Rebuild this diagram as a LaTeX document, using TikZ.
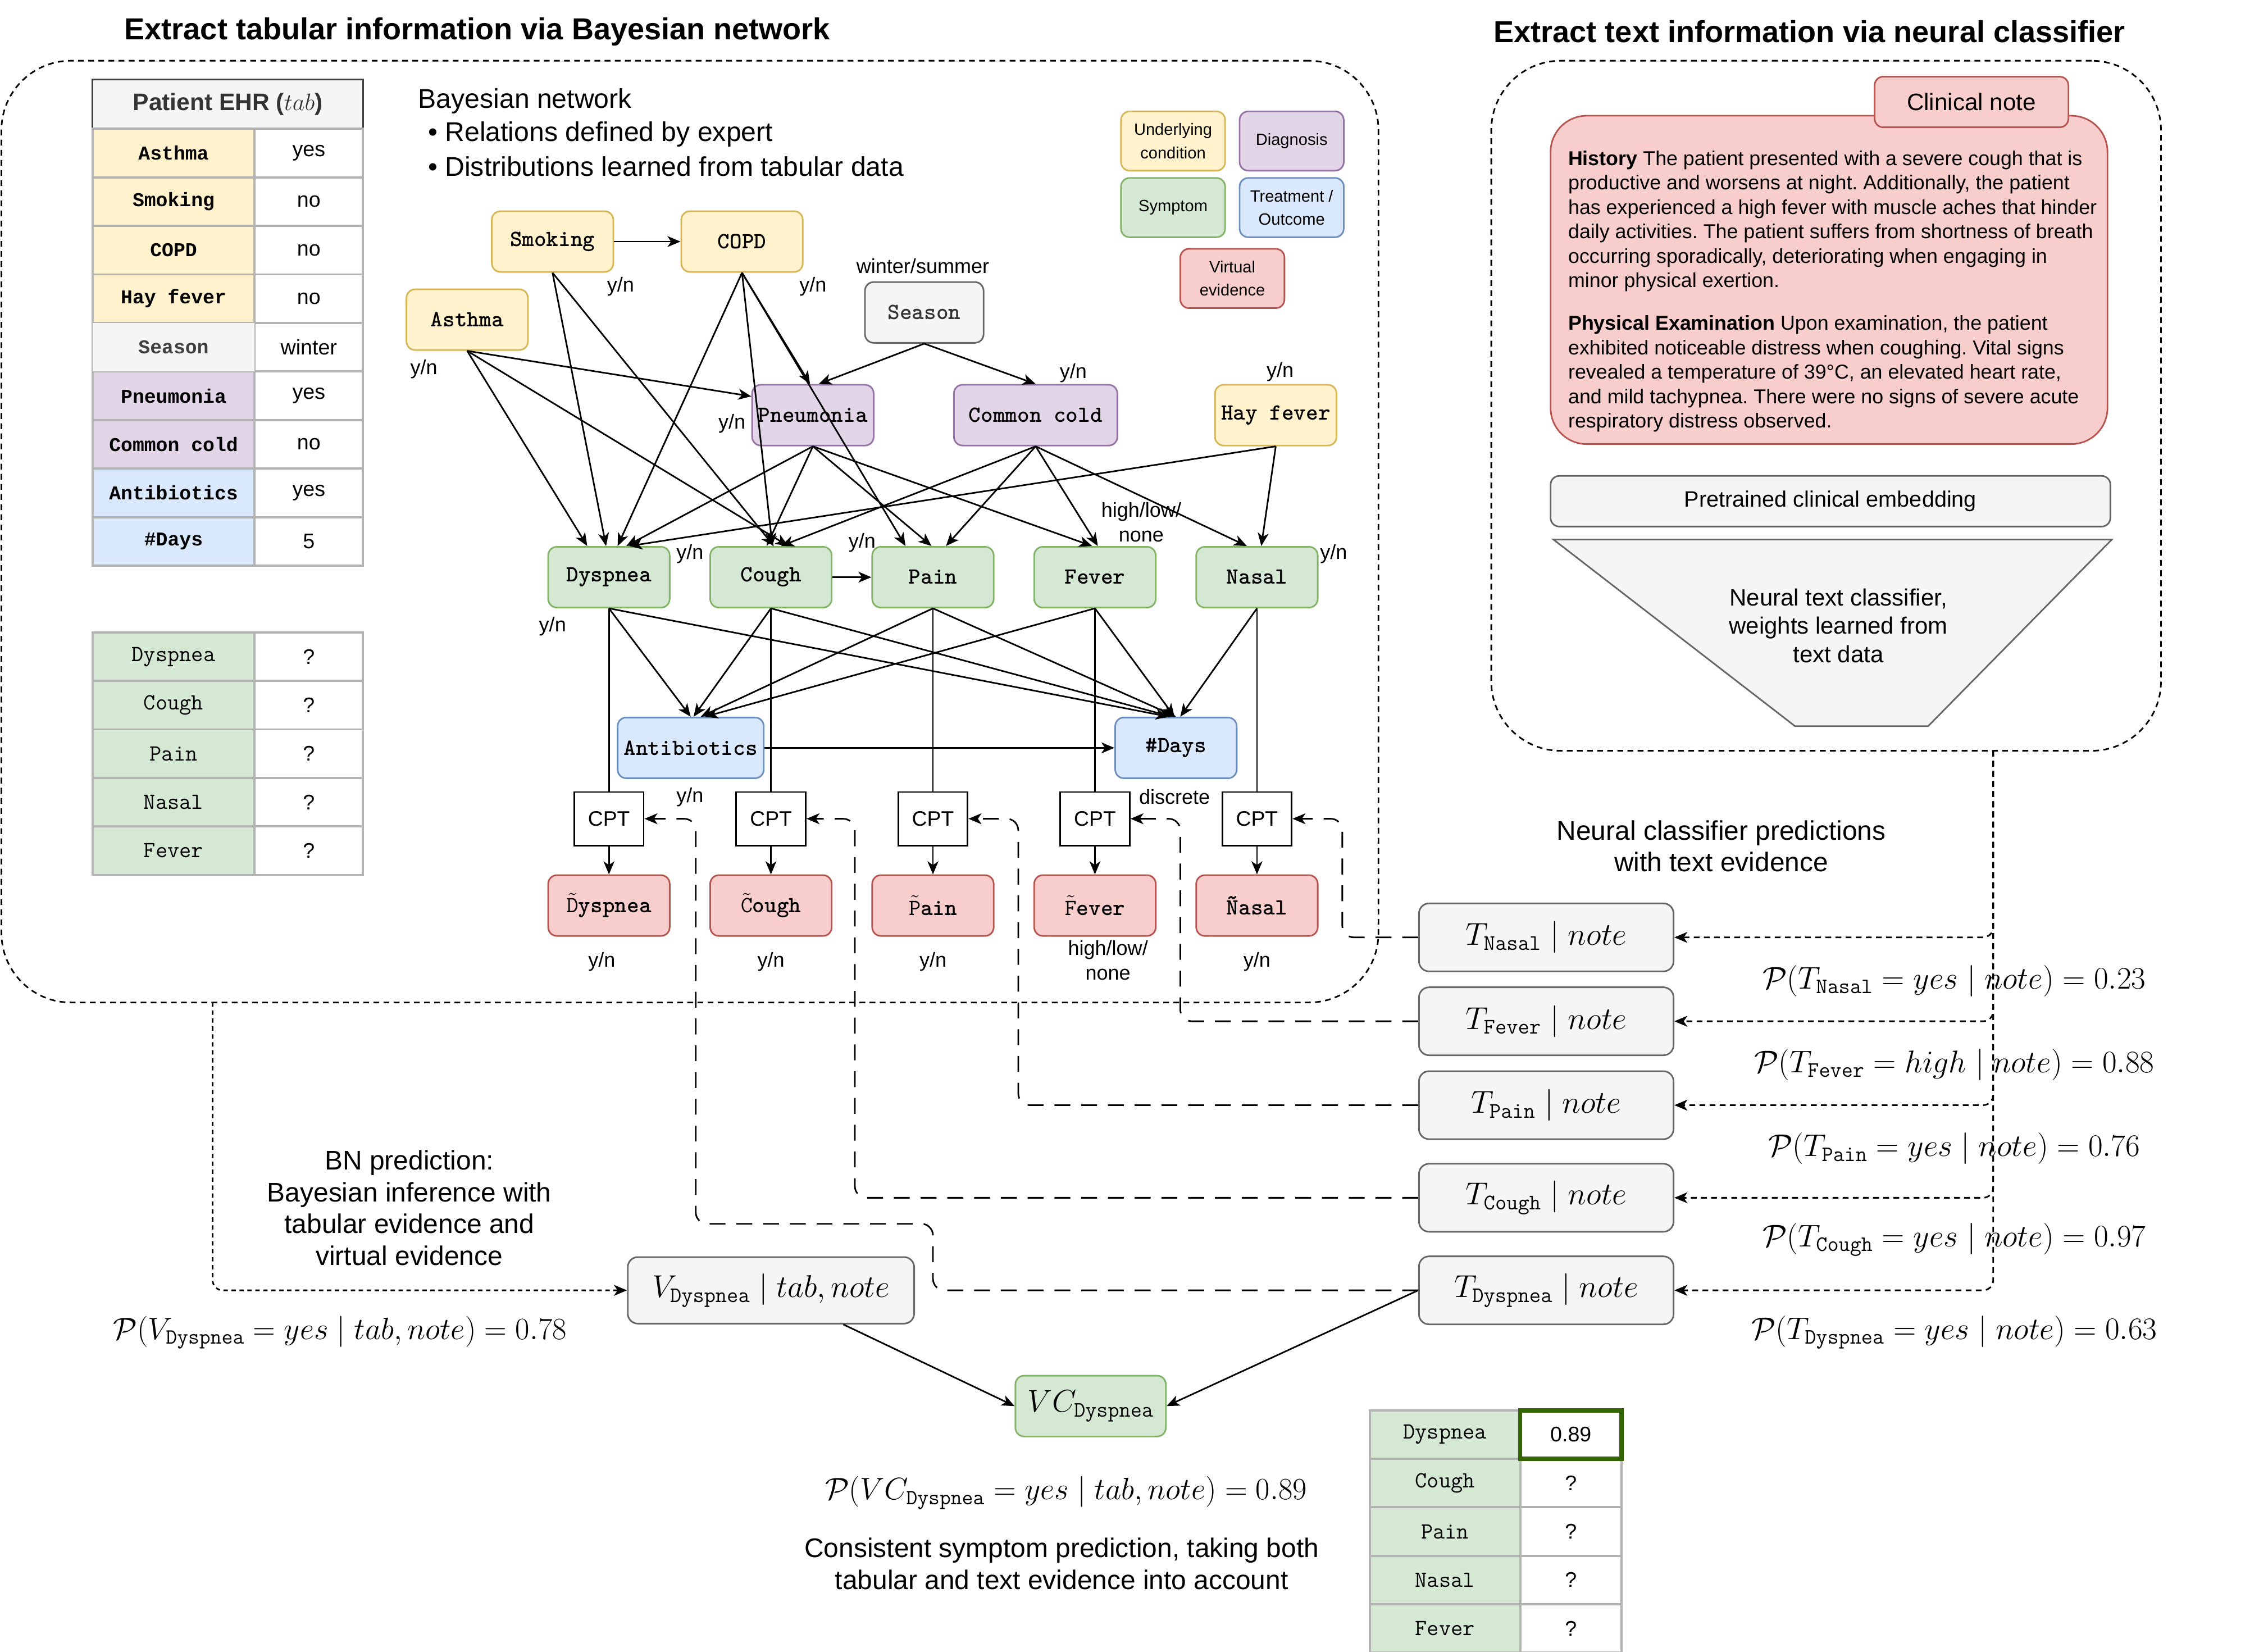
\RequirePackage{fix-cm}
\documentclass[tikz,border=0pt]{standalone}
\usepackage[no-math]{fontspec}
\usetikzlibrary{arrows.meta,calc}
\newfontfamily\hv{Liberation Sans}
\newfontfamily\crm{Liberation Mono}
\newcommand\fsz[2]{\fontsize{#1}{#2}\selectfont}
\definecolor{ylwF}{HTML}{FFF2CC}\definecolor{ylwD}{HTML}{D6B656}
\definecolor{purF}{HTML}{E1D5E7}\definecolor{purD}{HTML}{9673A6}
\definecolor{grnF}{HTML}{D5E8D4}\definecolor{grnD}{HTML}{82B366}
\definecolor{bluF}{HTML}{DAE8FC}\definecolor{bluD}{HTML}{6C8EBF}
\definecolor{redF}{HTML}{F8CECC}\definecolor{redD}{HTML}{B85450}
\definecolor{gryF}{HTML}{F5F5F5}\definecolor{gryD}{HTML}{666666}
\definecolor{tabL}{HTML}{B3B3B3}\definecolor{okG}{HTML}{336600}
\tikzset{
  bnnode/.style={draw, rounded corners=6pt, line width=1.1pt, minimum width=84pt,
    minimum height=42pt, inner sep=0pt, font=\ttfamily\bfseries\fsz{16}{18}},
  cond/.style={bnnode, fill=ylwF, draw=ylwD},
  diag/.style={bnnode, fill=purF, draw=purD},
  symp/.style={bnnode, fill=grnF, draw=grnD},
  treat/.style={bnnode, fill=bluF, draw=bluD},
  virt/.style={bnnode, fill=redF, draw=redD},
  ctx/.style={bnnode, fill=gryF, draw=gryD, text=black!80},
  cptbox/.style={draw, fill=white, line width=1.1pt, minimum width=48pt, minimum height=37pt,
    inner sep=0pt, font=\hv\fsz{14.5}{16}},
  legendbox/.style={draw, rounded corners=6pt, line width=1.1pt, minimum width=72pt,
    minimum height=41pt, inner sep=0pt, align=center, font=\hv\fsz{11.3}{16}},
  tnode/.style={draw=gryD, fill=gryF, rounded corners=7pt, line width=1.1pt,
    minimum width=176pt, minimum height=47pt, inner sep=0pt, font=\fsz{21.9}{25}},
  lbl/.style={inner sep=0pt, font=\hv\fsz{14}{17}, align=center},
  prob/.style={inner sep=0pt, font=\fsz{21.7}{25}},
  body/.style={inner sep=0pt, font=\hv\fsz{18.6}{22}, align=center},
  tcell/.style={draw=tabL, line width=1.5pt, minimum height=33.6pt, inner sep=0pt},
  ehrkey/.style={tcell, minimum width=112pt, font=\crm\bfseries\fsz{13.5}{16}},
  symkey/.style={tcell, minimum width=112pt, font=\ttfamily\fsz{16}{18}, fill=grnF},
  valcell/.style={tcell, fill=white, minimum width=75pt, font=\hv\fsz{14.6}{16}},
  arr/.style={-{Stealth[length=9pt,width=7.5pt,inset=2.5pt]}, line width=1.1pt},
  link/.style={line width=1.1pt},
  evid/.style={arr, dash pattern=on 11pt off 7.5pt, rounded corners=8pt},
  feed/.style={arr, dash pattern=on 4pt off 3pt, rounded corners=7pt},
  frame/.style={draw, dash pattern=on 4pt off 3pt, line width=1.1pt, rounded corners=48pt, inner sep=0pt}
}
\begin{document}
\frenchspacing
\begin{tikzpicture}[x=1pt,y=-1pt]
\useasboundingbox (0,0) rectangle (1568,1142);

% section titles and frames
\node[font=\hv\bfseries\fsz{21}{24}] (ttab) at (330,22) {Extract tabular information via Bayesian network};
\node[font=\hv\bfseries\fsz{21}{24}] (ttxt) at (1251,22) {Extract text information via neural classifier};
\node[frame, minimum width=952pt, minimum height=651pt] (bnframe) at (477,367.5) {};
\node[frame, minimum width=463pt, minimum height=477pt] (txframe) at (1262.5,280.5) {};

% patient record table
\node[draw=black!75, fill=gryF, line width=1.1pt, minimum width=187pt, minimum height=34pt, inner sep=0pt,
  font=\hv\bfseries\fsz{16.5}{18}, text=black!80] (ehrhead) at (157.5,72) {Patient EHR ($tab$)};
\foreach \k/\v/\c [count=\i from 0] in {Asthma/yes/ylwF, Smoking/no/ylwF, COPD/no/ylwF, Hay fever/no/ylwF,
    Season/winter/gryF, Pneumonia/yes/purF, Common cold/no/purF, Antibiotics/yes/bluF, \#Days/5/bluF}{
  \node[ehrkey, fill=\c] (ehrk\i) at (120,{105.8+33.56*\i}) {\k};
  \node[valcell] (ehrv\i) at (213.5,{105.8+33.56*\i}) {\v};
}
\node[ehrkey, fill=gryF, text=black!75, draw=none] at (ehrk4) {Season};

% unknown symptoms table
\foreach \k [count=\i from 0] in {Dyspnea, Cough, Pain, Nasal, Fever}{
  \node[symkey] (qk\i) at (120,{454+33.5*\i}) {\k};
  \node[valcell] (qv\i) at (213.5,{454+33.5*\i}) {?};
}

% network description
\node[anchor=west, inner sep=0pt, font=\hv\fsz{18.7}{22}] (bndesc) at (289,70) {Bayesian network};
\node[anchor=west, inner sep=0pt, font=\hv\fsz{18.7}{22}] (bnd1) at (296,93) {•\hspace{5pt}Relations defined by expert};
\node[anchor=west, inner sep=0pt, font=\hv\fsz{18.7}{22}] (bnd2) at (296,115) {•\hspace{5pt}Distributions learned from tabular data};

% legend
\node[legendbox, fill=ylwF, draw=ylwD] (lg1) at (811,97.5) {Underlying\\condition};
\node[legendbox, fill=purF, draw=purD] (lg2) at (893,97.5) {Diagnosis};
\node[legendbox, fill=grnF, draw=grnD] (lg3) at (811,143.5) {Symptom};
\node[legendbox, fill=bluF, draw=bluD] (lg4) at (893,143.5) {Treatment /\\Outcome};
\node[legendbox, fill=redF, draw=redD] (lg5) at (852,192.5) {Virtual\\evidence};

% Bayesian network nodes
\node[cond] (smok) at (382,167) {Smoking};
\node[cond] (copd) at (513,167) {COPD};
\node[cond] (asth) at (323,221) {Asthma};
\node[ctx, minimum width=82pt] (seas) at (639,216) {Season};
\node[diag] (pneu) at (562,287) {Pneumonia};
\node[diag, minimum width=113pt] (cold) at (716,287) {Common cold};
\node[cond] (hay) at (882,287) {Hay fever};
\node[symp] (dysp) at (421,399) {Dyspnea};
\node[symp] (cough) at (533,399) {Cough};
\node[symp] (pain) at (645,399) {Pain};
\node[symp] (fever) at (757,399) {Fever};
\node[symp] (nasal) at (869,399) {Nasal};
\node[treat, minimum width=101pt] (anti) at (477.5,517) {Antibiotics};
\node[treat] (days) at (813,517) {\#Days};

% virtual evidence nodes and their tables
\foreach \n/\x/\lab in {D/421/{$\tilde{\mathtt{D}}$yspnea}, C/533/{$\tilde{\mathtt{C}}$ough},
    P/645/{$\tilde{\mathtt{P}}$ain}, F/757/{$\tilde{\mathtt{F}}$ever}, N/869/{Ñasal}}{
  \node[cptbox] (cpt\n) at (\x,566) {CPT};
  \node[virt] (ve\n) at (\x,626) {\lab};
}

% network edges
\draw[arr] (smok) -- (copd);
\draw[arr] (cough) -- (pain);
\draw[arr] (anti) -- (days);
\draw[arr] (smok.south) -- ($(dysp.north)+(-2,0)$);
\draw[arr] (smok.south) -- ($(cough.north)+(2,0)$);
\draw[arr] (asth.south) -- ($(dysp.north)+(-15,0)$);
\draw[arr] (asth.south) -- ($(cough.north)+(12,0)$);
\draw[arr] (asth.south) -- ($(pneu.west)+(0,-13)$);
\draw[arr] (copd.south) -- ($(dysp.north)+(6,0)$);
\draw[arr] (copd.south) -- ($(cough.north)+(1,0)$);
\draw[arr] (copd.south) -- ($(pneu.north)+(-2,0)$);
\draw[arr] (copd.south) -- ($(pain.north)+(-19,0)$);
\draw[arr] (seas.south) -- ($(pneu.north)+(4,0)$);
\draw[arr] (seas.south) -- (cold.north);
\draw[arr] (pneu.south) -- ($(dysp.north)+(12,0)$);
\draw[arr] (pneu.south) -- ($(cough.north)+(-3,0)$);
\draw[arr] (pneu.south) -- ($(pain.north)+(-1,0)$);
\draw[arr] (pneu.south) -- ($(fever.north)+(-2,0)$);
\draw[arr] (cold.south) -- ($(cough.north)+(7,0)$);
\draw[arr] (cold.south) -- ($(pain.north)+(9,0)$);
\draw[arr] (cold.south) -- ($(fever.north)+(2,0)$);
\draw[arr] (cold.south) -- ($(nasal.north)+(-7,0)$);
\draw[arr] (hay.south) -- ($(dysp.north)+(14,0)$);
\draw[arr] (hay.south) -- ($(nasal.north)+(3,0)$);
\draw[arr] (dysp.south) -- ($(anti.north)+(0,0)$);
\draw[arr] (cough.south) -- ($(anti.north)+(2,0)$);
\draw[arr] (pain.south) -- ($(anti.north)+(7,0)$);
\draw[arr] (fever.south) -- ($(anti.north)+(10,0)$);
\draw[arr] (dysp.south) -- ($(days.north)+(-5,0)$);
\draw[arr] (cough.south) -- ($(days.north)+(-3,0)$);
\draw[arr] (pain.south) -- ($(days.north)+(0,0)$);
\draw[arr] (fever.south) -- ($(days.north)+(-1,0)$);
\draw[arr] (nasal.south) -- ($(days.north)+(3,0)$);
\draw[link] (dysp.south) -- (cptD.north);  \draw[arr] (cptD.south) -- (veD.north);
\draw[link] (cough.south) -- (cptC.north); \draw[arr] (cptC.south) -- (veC.north);
\draw[link] (pain.south) -- (cptP.north);  \draw[arr] (cptP.south) -- (veP.north);
\draw[link] (fever.south) -- (cptF.north); \draw[arr] (cptF.south) -- (veF.north);
\draw[link] (nasal.south) -- (cptN.north); \draw[arr] (cptN.south) -- (veN.north);

% state labels
\node[lbl] (l1) at (429,198) {y/n};
\node[lbl] (l2) at (562,198) {y/n};
\node[lbl] (l3) at (293,255) {y/n};
\node[lbl] (l4) at (638,184) {winter/summer};
\node[lbl] (l5) at (506,293) {y/n};
\node[lbl] (l6) at (742,258) {y/n};
\node[lbl] (l7) at (885,257) {y/n};
\node[lbl] (l8) at (789,361) {high/low/\\none};
\node[lbl] (l9) at (382,433) {y/n};
\node[lbl] (l10) at (477,383) {y/n};
\node[lbl] (l11) at (596,375) {y/n};
\node[lbl] (l12) at (922,383) {y/n};
\node[lbl] (l13) at (477,551) {y/n};
\node[lbl] (l14) at (812,551) {discrete};
\node[lbl] (l15) at (416,665) {y/n};
\node[lbl] (l16) at (533,665) {y/n};
\node[lbl] (l17) at (645,665) {y/n};
\node[lbl] (l18) at (766,664) {high/low/\\none};
\node[lbl] (l19) at (869,665) {y/n};

% clinical note
\draw[draw=redD, fill=redF, line width=1.1pt, rounded corners=25pt] (1072,80) rectangle (1457,307);
\node[draw=redD, fill=redF, line width=1.1pt, rounded corners=6pt, minimum width=134pt, minimum height=35pt,
  inner sep=0pt, font=\hv\fsz{16.4}{18}] (notetab) at (1363,70.5) {Clinical note};
\node[anchor=north west, inner sep=0pt, align=left, font=\hv\fsz{13.9}{16.9}] (hist) at (1084,104) {%
\textbf{History} The patient presented with a severe cough that is\\
productive and worsens at night. Additionally, the patient\\
has experienced a high fever with muscle aches that hinder\\
daily activities. The patient suffers from shortness of breath\\
occurring sporadically, deteriorating when engaging in\\
minor physical exertion.};
\node[anchor=north west, inner sep=0pt, align=left, font=\hv\fsz{13.9}{16.9}] (exam) at (1084,218) {%
\textbf{Physical Examination} Upon examination, the patient\\
exhibited noticeable distress when coughing. Vital signs\\
revealed a temperature of 39°C, an elevated heart rate,\\
and mild tachypnea. There were no signs of severe acute\\
respiratory distress observed.};

% text classifier
\node[draw=gryD, fill=gryF, line width=1.1pt, rounded corners=6pt, minimum width=387pt, minimum height=35pt,
  inner sep=0pt, font=\hv\fsz{15.4}{18}] (embed) at (1265.5,346.5) {Pretrained clinical embedding};
\draw[draw=gryD, fill=gryF, line width=1.1pt] (1074,373) -- (1460,373) -- (1333,502) -- (1241,502) -- cycle;
\node[body, font=\hv\fsz{16.3}{19.5}] (clf) at (1271,432.5) {Neural text classifier,\\weights learned from\\text data};

% classifier outputs
\node[body] (predtxt) at (1190,585) {Neural classifier predictions\\with text evidence};
\node[tnode] (tnas) at (1069,648) {$T_{\mathtt{Nasal}} \mid note$};
\node[tnode] (tfev) at (1069,706) {$T_{\mathtt{Fever}} \mid note$};
\node[tnode] (tpain) at (1069,764) {$T_{\mathtt{Pain}} \mid note$};
\node[tnode] (tcou) at (1069,828) {$T_{\mathtt{Cough}} \mid note$};
\node[tnode] (tdys) at (1069,892) {$T_{\mathtt{Dyspnea}} \mid note$};
\node[prob] (pnas) at (1351,678) {$\mathcal{P}(T_{\mathtt{Nasal}} = yes \mid note) = 0.23$};
\node[prob] (pfev) at (1351,736) {$\mathcal{P}(T_{\mathtt{Fever}} = high \mid note) = 0.88$};
\node[prob] (ppain) at (1351,794) {$\mathcal{P}(T_{\mathtt{Pain}} = yes \mid note) = 0.76$};
\node[prob] (pcou) at (1351,857) {$\mathcal{P}(T_{\mathtt{Cough}} = yes \mid note) = 0.97$};
\node[prob] (pdys) at (1351,921) {$\mathcal{P}(T_{\mathtt{Dyspnea}} = yes \mid note) = 0.63$};

\coordinate (tap) at (1378,519);
\draw[feed] (tap) |- (tnas.east);
\draw[feed] (tap) |- (tfev.east);
\draw[feed] (tap) |- (tpain.east);
\draw[feed] (tap) |- (tcou.east);
\draw[feed] (tap) |- (tdys.east);

% text evidence fed into the network as virtual evidence
\draw[evid] (tnas.west) -| (928,566) -- (cptN.east);
\draw[evid] (tfev.west) -| (816,566) -- (cptF.east);
\draw[evid] (tpain.west) -| (704,566) -- (cptP.east);
\draw[evid] (tcou.west) -| (591,566) -- (cptC.east);
\draw[evid] (tdys.west) -| (645,846) -| (481,566) -- (cptD.east);

% Bayesian inference and combination
\node[body] (bnpred) at (283,835) {BN prediction:\\Bayesian inference with\\tabular evidence and\\virtual evidence};
\node[tnode, minimum width=198pt, minimum height=46pt, font=\fsz{21.8}{25}] (vdys) at (533,892) {$V_{\mathtt{Dyspnea}} \mid tab, note$};
\coordinate (bnout) at (147,693);
\draw[arr, dash pattern=on 3pt off 2.5pt, rounded corners=7pt] (bnout) |- (vdys.west);
\node[prob, font=\fsz{21.4}{25}] (pv) at (235,921) {$\mathcal{P}(V_{\mathtt{Dyspnea}} = yes \mid tab, note) = 0.78$};
\node[symp, minimum width=104pt, font=\fsz{21.7}{25}] (vc) at (754,972) {$VC_{\mathtt{Dyspnea}}$};
\draw[arr] ($(vdys.south)+(50,0)$) -- (vc.west);
\draw[arr] (tdys.west) -- (vc.east);
\node[prob, font=\fsz{21.4}{25}] (pvc) at (737,1032) {$\mathcal{P}(VC_{\mathtt{Dyspnea}} = yes \mid tab, note) = 0.89$};
\node[body] (cons) at (734,1081) {Consistent symptom prediction, taking both\\tabular and text evidence into account};

% final symptom table
\foreach \k/\v [count=\i from 0] in {Dyspnea/0.89, Cough/?, Pain/?, Nasal/?, Fever/?}{
  \node[symkey, minimum width=104pt] (rk\i) at (999,{991.75+33.5*\i}) {\k};
  \node[valcell, minimum width=70pt] (rv\i) at (1086,{991.75+33.5*\i}) {\v};
}
\node[draw=okG, line width=3pt, minimum width=70pt, minimum height=33.5pt, inner sep=0pt] (hit) at (rv0) {};
\end{tikzpicture}
\end{document}
